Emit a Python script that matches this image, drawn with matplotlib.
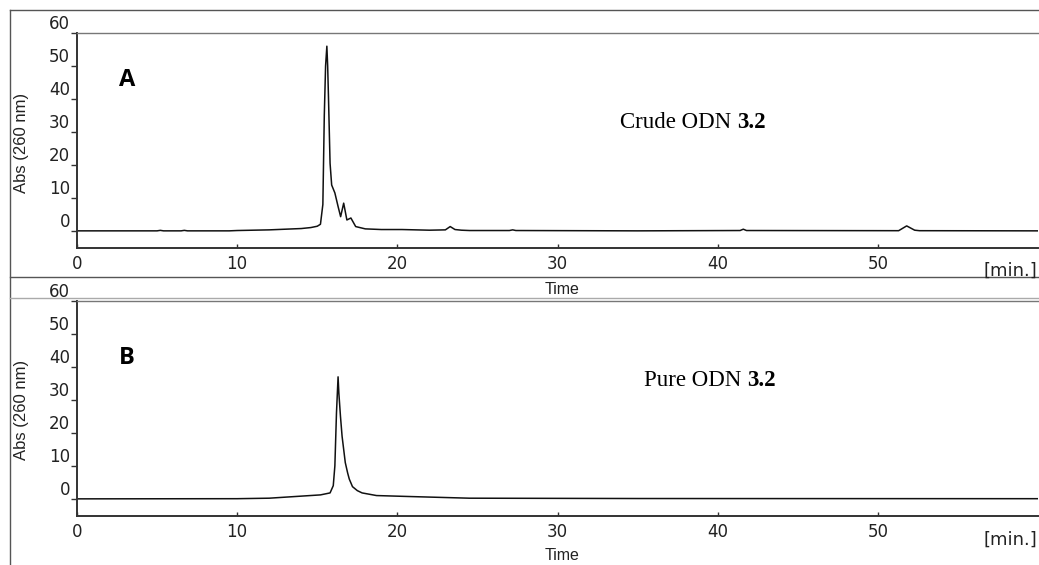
import matplotlib
matplotlib.use("Agg")
import matplotlib.pyplot as plt
from matplotlib.lines import Line2D
from matplotlib import font_manager

# ---- data ----
time_a = [0, 5.0, 5.2, 5.4, 6.5, 6.7, 6.9, 9.5, 10.0, 12.0, 14.0, 14.6, 15.0, 15.2,
          15.35, 15.44, 15.52, 15.6, 15.65, 15.7, 15.8, 15.9, 16.1, 16.3, 16.46, 16.65,
          16.85, 17.1, 17.4, 18.0, 19.0, 20.3, 22.0, 23.0, 23.3, 23.6, 24.0, 24.5,
          27.0, 27.2, 27.4, 35.0, 41.4, 41.6, 41.8, 51.3, 51.8, 52.3, 52.6, 60.0]
abs_a = [0, 0, 0.15, 0, 0, 0.15, 0, 0, 0.1, 0.3, 0.7, 1.0, 1.4, 2.0,
         8.0, 35.0, 50.0, 56.0, 50.0, 40.7, 20.5, 13.9, 11.5, 7.4, 4.3, 8.4,
         3.3, 3.9, 1.3, 0.6, 0.4, 0.4, 0.2, 0.3, 1.3, 0.4, 0.2, 0.1,
         0.1, 0.3, 0.1, 0.0, 0.1, 0.5, 0.1, 0.05, 1.5, 0.2, 0.05, 0.0]

time_b = [0, 10.0, 12.0, 15.2, 15.8, 16.0, 16.1, 16.2, 16.3, 16.35, 16.45, 16.55,
          16.65, 16.75, 16.9, 17.0, 17.2, 17.5, 17.8, 18.7, 20.8, 24.5, 35.0, 60.0]
abs_b = [0, 0.05, 0.2, 1.2, 1.8, 4.0, 10.0, 26.0, 37.0, 32.0, 25.0, 19.0,
         15.0, 11.0, 7.8, 6.0, 3.7, 2.5, 1.8, 1.0, 0.7, 0.2, 0.1, 0.05]

x_ticks = [0, 10, 20, 30, 40, 50]
y_ticks = [0, 10, 20, 30, 40, 50, 60]
panel_labels = ["A", "B"]
sample_names = ["Crude ODN", "Pure ODN"]
compound = "3.2"

# ---- fonts ----
fonts = font_manager.fontManager.ttflist
available = {f.name for f in fonts}
narrow = "Liberation Sans Narrow" if "Liberation Sans Narrow" in available else "Liberation Sans"
bold_families = {f.name for f in fonts if f.weight in (700, "bold")}
label_font = "DejaVu Sans"
for cand in ["Open Sans", "Lato", "Noto Sans", "Liberation Sans"]:
    if cand in bold_families:
        label_font = cand
        break
tickfont = "DejaVu Sans"
serif = "Liberation Serif"

W, H = 1039, 565
fig = plt.figure(figsize=(W / 100, H / 100), dpi=100)

def fx(px):
    return px / W

def fy(py):
    return 1 - py / H

# frame lines of the figure
fig.add_artist(Line2D([fx(10), fx(10)], [0, fy(10)], color="#555555", lw=1.0))
fig.add_artist(Line2D([fx(10), 1], [fy(10), fy(10)], color="#555555", lw=1.0))
fig.add_artist(Line2D([fx(10), 1], [fy(277), fy(277)], color="#555555", lw=1.0))
fig.add_artist(Line2D([fx(10), 1], [fy(298), fy(298)], color="#aaaaaa", lw=1.0))

panels = [
    dict(top=33, bottom=248, t=time_a, a=abs_a, label_xy=(127, 80),
         name_xy=(620, 122), ylabel_y=143, time_y=290, min_y=271),
    dict(top=301, bottom=516, t=time_b, a=abs_b, label_xy=(127, 358),
         name_xy=(644, 381), ylabel_y=410, time_y=556, min_y=540),
]

for i, p in enumerate(panels):
    left, right = 77, 1038
    ax = fig.add_axes([fx(left), fy(p["bottom"]), fx(right) - fx(left),
                       fy(p["top"]) - fy(p["bottom"])])
    ax.plot(p["t"], p["a"], color="#111111", lw=1.1)
    ax.set_xlim(0, 60)
    ax.set_ylim(-5.2, 60)
    ax.set_xticks(x_ticks)
    ax.set_yticks(y_ticks)
    ax.set_xticklabels([str(v) for v in x_ticks], fontfamily=tickfont, fontsize=12)
    ax.set_yticklabels([str(v) for v in y_ticks], fontfamily=tickfont, fontsize=12)
    for lab in ax.get_yticklabels():
        lab.set_verticalalignment("bottom")
    ax.tick_params(axis="x", direction="in", length=3, width=1, pad=5, colors="#333333",
                   labelcolor="#222222")
    ax.tick_params(axis="y", direction="out", length=4, width=1, pad=1, colors="#333333",
                   labelcolor="#222222")
    ax.spines["left"].set_color("#333333")
    ax.spines["left"].set_linewidth(1.4)
    ax.spines["bottom"].set_color("#333333")
    ax.spines["bottom"].set_linewidth(1.4)
    ax.spines["top"].set_color("#777777")
    ax.spines["top"].set_linewidth(1.0)
    ax.spines["right"].set_visible(False)

    fig.text(fx(p["label_xy"][0]), fy(p["label_xy"][1]), panel_labels[i],
             fontfamily=label_font, fontweight="bold", fontsize=17,
             ha="center", va="center")
    t1 = fig.text(fx(p["name_xy"][0]), fy(p["name_xy"][1]), sample_names[i],
                  fontfamily=serif, fontsize=16.5, ha="left", va="center")
    ax.annotate(compound, xy=(1, 0), xycoords=t1, xytext=(4, 0),
                textcoords="offset points", fontfamily=serif, fontweight="bold",
                fontsize=16.5, ha="left", va="bottom", annotation_clip=False)
    fig.text(fx(22), fy(p["ylabel_y"]), "Abs (260 nm)", rotation=90,
             fontfamily=narrow, fontsize=12, ha="center", va="center", color="#222222")
    fig.text(fx(562), fy(p["time_y"]), "Time", fontfamily=narrow, fontsize=11.5,
             ha="center", va="center", color="#222222")
    fig.text(fx(1037), fy(p["min_y"]), "[min.]", fontfamily=tickfont, fontsize=13,
             ha="right", va="center", color="#222222")

fig.savefig("out.png", dpi=100)
